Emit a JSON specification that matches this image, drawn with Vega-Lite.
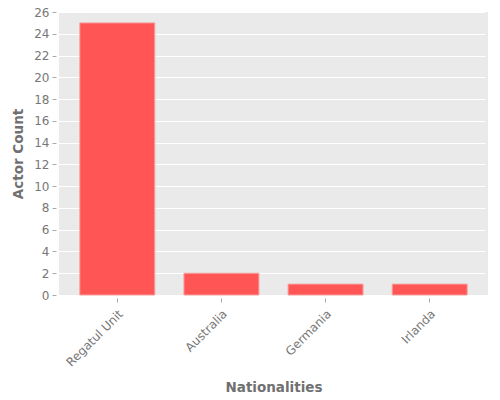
{
  "$schema": "https://vega.github.io/schema/vega-lite/v6.json",
  "width": 429,
  "height": 283,
  "autosize": {"type": "none"},
  "padding": {"left": 59, "top": 12, "right": 12, "bottom": 105},
  "background": "white",
  "data": {
    "values": [
      {"nationality": "Regatul Unit", "count": 25},
      {"nationality": "Australia", "count": 2},
      {"nationality": "Germania", "count": 1},
      {"nationality": "Irlanda", "count": 1}
    ]
  },
  "mark": {
    "type": "bar",
    "color": "#ff5555",
    "stroke": "#f5a0a0",
    "strokeWidth": 1
  },
  "encoding": {
    "x": {
      "field": "nationality",
      "type": "nominal",
      "sort": null,
      "scale": {"paddingInner": 0.28, "paddingOuter": 0.2},
      "axis": {
        "title": "Nationalities",
        "labelAngle": -45,
        "labelAlign": "right",
        "labelBaseline": "top",
        "labelPadding": 6,
        "titlePadding": 12
      }
    },
    "y": {
      "field": "count",
      "type": "quantitative",
      "scale": {"domain": [0, 26], "nice": false},
      "axis": {
        "title": "Actor Count",
        "values": [0, 2, 4, 6, 8, 10, 12, 14, 16, 18, 20, 22, 24, 26],
        "labelPadding": 3,
        "titlePadding": 8
      }
    }
  },
  "config": {
    "view": {"fill": "#eaeaea", "stroke": null},
    "axis": {
      "domain": false,
      "gridColor": "white",
      "gridWidth": 1,
      "tickColor": "#aaaaaa",
      "tickSize": 4,
      "offset": 3,
      "labelFont": "DejaVu Sans",
      "labelFontSize": 12,
      "labelColor": "#777777",
      "titleFont": "DejaVu Sans",
      "titleFontSize": 13.5,
      "titleFontWeight": "bold",
      "titleColor": "#707070"
    },
    "axisX": {"grid": false}
  }
}
